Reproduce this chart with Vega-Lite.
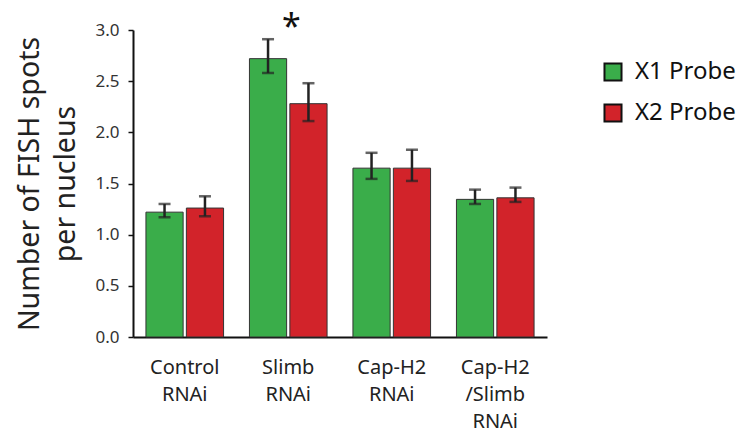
{
  "$schema": "https://vega.github.io/schema/vega-lite/v6.json",
  "width": 414,
  "height": 307,
  "autosize": "none",
  "padding": {"left": 133, "top": 30, "right": 199, "bottom": 98},
  "background": "white",
  "config": {
    "font": "Noto Sans",
    "view": {"stroke": null}
  },
  "data": {
    "values": [
      {"group": "Control|RNAi", "probe": "X1 Probe", "mean": 1.22, "lo": 1.17, "hi": 1.30},
      {"group": "Control|RNAi", "probe": "X2 Probe", "mean": 1.26, "lo": 1.18, "hi": 1.375},
      {"group": "Slimb|RNAi", "probe": "X1 Probe", "mean": 2.72, "lo": 2.58, "hi": 2.91},
      {"group": "Slimb|RNAi", "probe": "X2 Probe", "mean": 2.28, "lo": 2.11, "hi": 2.48},
      {"group": "Cap-H2|RNAi", "probe": "X1 Probe", "mean": 1.65, "lo": 1.545, "hi": 1.80},
      {"group": "Cap-H2|RNAi", "probe": "X2 Probe", "mean": 1.65, "lo": 1.525, "hi": 1.83},
      {"group": "Cap-H2|/Slimb|RNAi", "probe": "X1 Probe", "mean": 1.345, "lo": 1.30, "hi": 1.44},
      {"group": "Cap-H2|/Slimb|RNAi", "probe": "X2 Probe", "mean": 1.36, "lo": 1.32, "hi": 1.46}
    ]
  },
  "encoding": {
    "x": {
      "field": "group",
      "type": "nominal",
      "sort": null,
      "scale": {"paddingInner": 0.25, "paddingOuter": 0.125},
      "axis": {
        "title": null,
        "labelAngle": 0,
        "labelExpr": "split(datum.value, '|')",
        "labelFontSize": 20,
        "labelColor": "#222",
        "labelLineHeight": 27,
        "labelPadding": 20,
        "ticks": false,
        "domainColor": "#111",
        "domainWidth": 2
      }
    }
  },
  "layer": [
    {
      "mark": {"type": "bar", "stroke": "#333", "strokeWidth": 1},
      "encoding": {
        "xOffset": {"field": "probe", "type": "nominal", "scale": {"paddingInner": 0.08}},
        "y": {
          "field": "mean",
          "type": "quantitative",
          "scale": {"domain": [0, 3]},
          "axis": {
            "title": ["Number of FISH spots", "per nucleus"],
            "titleFontSize": 28.5,
            "titleFontWeight": "normal",
            "titleColor": "#222",
            "titleLineHeight": 36,
            "titlePadding": 14,
            "values": [0, 0.5, 1, 1.5, 2, 2.5, 3],
            "format": ".1f",
            "labelFontSize": 17,
            "labelColor": "#333",
            "labelPadding": 9,
            "tickSize": 5,
            "tickColor": "#111",
            "tickWidth": 1.5,
            "grid": false,
            "domainColor": "#111",
            "domainWidth": 2
          }
        },
        "color": {
          "field": "probe",
          "type": "nominal",
          "scale": {"domain": ["X1 Probe", "X2 Probe"], "range": ["#3aad4a", "#d2232a"]},
          "legend": {
            "title": null,
            "orient": "none",
            "legendX": 468,
            "legendY": 30,
            "symbolType": "square",
            "symbolSize": 290,
            "symbolStrokeColor": "#111",
            "symbolStrokeWidth": 2,
            "labelFontSize": 24,
            "labelColor": "#111",
            "rowPadding": 15,
            "labelOffset": 10
          }
        }
      }
    },
    {
      "mark": {"type": "rule", "color": "#222", "strokeWidth": 2.5},
      "encoding": {
        "xOffset": {"field": "probe", "type": "nominal", "scale": {"paddingInner": 0.08}},
        "y": {"field": "lo", "type": "quantitative"},
        "y2": {"field": "hi"}
      }
    },
    {
      "mark": {"type": "tick", "color": "#222", "size": 12, "thickness": 2.5},
      "encoding": {
        "xOffset": {"field": "probe", "type": "nominal", "scale": {"paddingInner": 0.08}},
        "y": {"field": "lo", "type": "quantitative"}
      }
    },
    {
      "mark": {"type": "tick", "color": "#222", "size": 12, "thickness": 2.5},
      "encoding": {
        "xOffset": {"field": "probe", "type": "nominal", "scale": {"paddingInner": 0.08}},
        "y": {"field": "hi", "type": "quantitative"}
      }
    },
    {
      "data": {"values": [{"group": "Slimb|RNAi", "y": 3.0, "label": "*"}]},
      "mark": {"type": "text", "fontSize": 34, "color": "#111", "baseline": "middle", "dy": -2, "dx": 3, "clip": false},
      "encoding": {
        "x": {"field": "group", "type": "nominal", "sort": null},
        "y": {"field": "y", "type": "quantitative"},
        "text": {"field": "label"}
      }
    }
  ]
}
